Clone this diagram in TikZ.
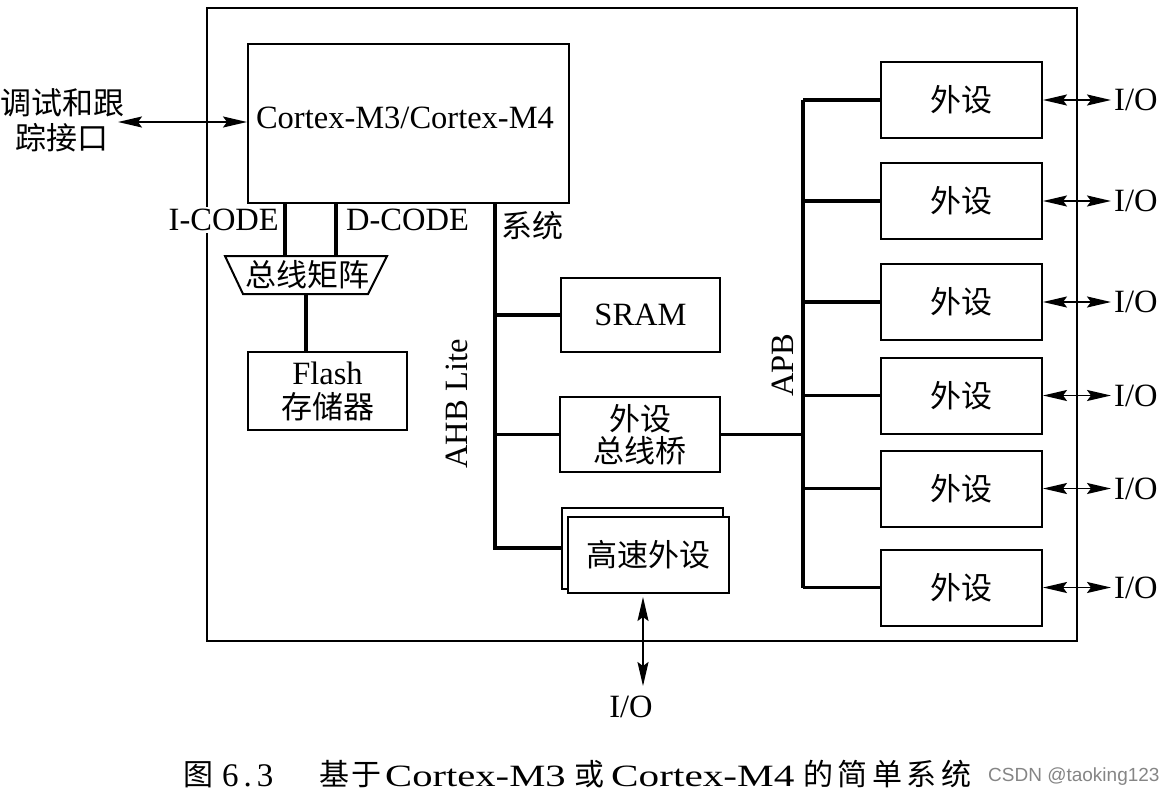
\documentclass[tikz,border=0pt]{standalone}
\usepackage{fontspec}
\setmainfont{Liberation Serif}
\newfontfamily\cjk{Noto Sans CJK SC}
\newfontfamily\wm{Liberation Sans}
\usetikzlibrary{arrows.meta}
\newcommand{\zhf}{\cjk\fontsize{31}{35}\selectfont}
\begin{document}
\begin{tikzpicture}[x=1pt,y=-1pt,
  box/.style={draw,line width=2pt,inner sep=0pt,align=center,font=\fontsize{32.5}{35}\selectfont},
  bus/.style={line width=3.4pt},
  io/.style={line width=1.8pt,{Stealth[length=24pt,width=11pt,inset=4pt]}-{Stealth[length=24pt,width=11pt,inset=4pt]}},
  lab/.style={font=\fontsize{32.5}{35}\selectfont,inner sep=0pt},
  zh/.style={font=\zhf,inner sep=0pt},
  capzh/.style={font=\cjk\fontsize{30}{32}\selectfont,inner sep=0pt,anchor=base west},
  caplat/.style={font=\fontsize{31}{33}\selectfont,inner sep=0pt,anchor=base west},
]
\useasboundingbox (0,0) rectangle (1175,798);
% outer system box
\node[draw,line width=1.8pt,minimum width=870pt,minimum height=633pt,inner sep=0pt] (sys) at (642,324.5) {};
% CPU
\node[box,minimum width=321pt,minimum height=159pt] (cpu) at (408.5,123.5) {};
\node[lab] (cpulab) at (405,118) {Cortex-M3/Cortex-M4};
% debug
\node[zh,align=center] (dbg) at (62,120) {调试和跟\\踪接口};
\coordinate (dbgp) at (118,122);
\draw[io] (dbgp) -- (dbgp -| cpu.west);
% bus matrix
\draw[line width=2pt] (225,256) -- (387,256) -- (368,294) -- (243,294) -- cycle;
\node[zh] (mtx) at (307,275) {总线矩阵};
\coordinate (ic) at (285,256);
\coordinate (dc) at (336,256);
\coordinate (mb) at (306,294);
\draw[bus] (cpu.south -| ic) -- (ic);
\draw[bus] (cpu.south -| dc) -- (dc);
\node[lab,fill=white,inner sep=2pt,anchor=east] (iclab) at (281,220) {I-CODE};
\node[lab,anchor=west] (dclab) at (346,220) {D-CODE};
% flash
\node[box,minimum width=159pt,minimum height=78pt] (flash) at (327.5,391) {Flash\\[-1pt]{\zhf 存储器}};
\draw[bus] (mb) -- (mb |- flash.north);
% AHB
\coordinate (sysb) at (495,203);
\node[zh,anchor=west] (syslab) at (501,226) {系统};
\node[box,minimum width=159pt,minimum height=74pt] (sram) at (640.5,315) {SRAM};
\node[box,minimum width=160pt,minimum height=75pt] (brg) at (640,434.5) {{\zhf 外设}\\[-3pt]{\zhf 总线桥}};
\node[box,fill=white,minimum width=161pt,minimum height=81pt] (hsb) at (642.5,548.5) {};
\node[box,fill=white,minimum width=161pt,minimum height=76pt] (hs) at (648.5,555) {{\zhf 高速外设}};
\coordinate (ahbbot) at (495,548);
\draw[bus] (sysb) -- (ahbbot) -- (hsb.west |- ahbbot);
\draw[bus] (sysb |- sram.west) -- (sram.west);
\draw[bus] (sysb |- brg.west) -- (brg.west);
\node[lab,rotate=90] (ahblab) at (457,404) {AHB Lite};
% bottom IO
\coordinate (hsio) at (643,597);
\coordinate (hsioe) at (643,686);
\draw[io] (hsio) -- (hsioe);
\node[lab] (iob) at (631,707) {I/O};
% APB
\coordinate (apbt) at (803,100);
\coordinate (apbb) at (803,588);
\draw[bus] (apbt) -- (apbb);
\draw[bus] (brg.east) -- (brg.east -| apbt);
\node[lab,rotate=90] (apblab) at (783,365) {APB};
\foreach \i/\y in {1/100,2/201,3/302,4/395.5,5/488.5,6/587.5}{
  \node[box,minimum width=161pt,minimum height=76pt] (p\i) at (961.5,\y) {{\zhf 外设}};
  \draw[bus] (apbt |- p\i.west) -- (p\i.west);
  \coordinate (io\i) at (1111,\y);
  \draw[io] (p\i.east) -- (io\i);
  \node[lab,anchor=west] (iol\i) at (1114,\y) {I/O};
}
% caption
\node[capzh] (c1) at (183,785) {图};
\node[caplat,font=\fontsize{33}{35}\selectfont] (c2) at (222,786) {6\hspace{5pt}.\hspace{5pt}3};
\node[capzh] (c3) at (319,785) {基\hspace{2pt}于};
\node[caplat] (c4) at (385,786) {\scalebox{1.31}[1]{Cortex-M3}};
\node[capzh] (c5) at (574,785) {或};
\node[caplat] (c6) at (611,786) {\scalebox{1.33}[1]{Cortex-M4}};
\node[capzh] (c7) at (803,785) {的\hspace{4.5pt}简\hspace{4.5pt}单\hspace{4.5pt}系\hspace{4.5pt}统};
\node[inner sep=0pt,anchor=west,text=black!48,font=\wm\fontsize{19}{21}\selectfont] (wmk) at (988,777) {CSDN @taoking123};
\end{tikzpicture}
\end{document}
